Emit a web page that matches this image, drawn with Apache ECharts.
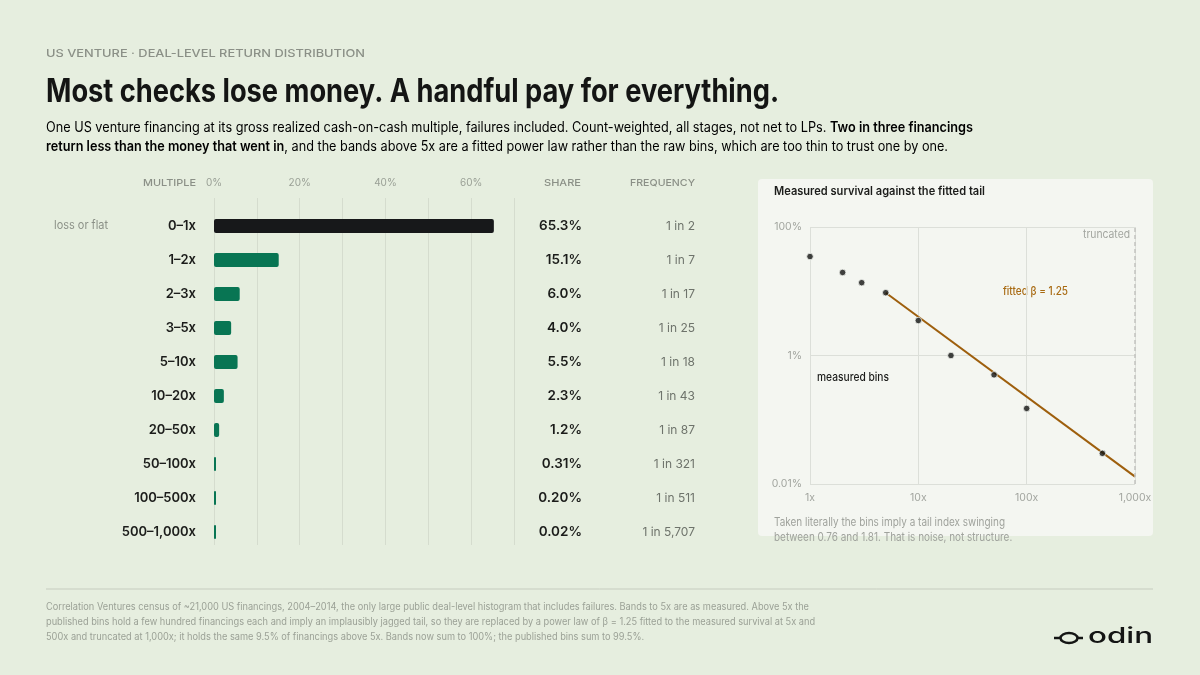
<!DOCTYPE html>
<html lang="en">
<head>
    <meta charset="UTF-8">
    <title>US venture deal-level return distribution</title>
    <style>
        html, body { margin: 0; padding: 0; background: #e6eedf; }
    </style>
</head>
<body>
    <div id="main" style="width: 1200px;height:675px;"></div>
</body>
<script src="https://cdn.jsdelivr.net/npm/echarts@6/dist/echarts.min.js"></script>
<script type="text/javascript">
    // bands of gross multiple, top to bottom
    const categories = ['0–1x', '1–2x', '2–3x', '3–5x', '5–10x', '10–20x', '20–50x', '50–100x', '100–500x', '500–1,000x'];
    const shares = [65.3, 15.1, 6.0, 4.0, 5.5, 2.3, 1.2, 0.31, 0.20, 0.02];
    const shareLabels = ['65.3%', '15.1%', '6.0%', '4.0%', '5.5%', '2.3%', '1.2%', '0.31%', '0.20%', '0.02%'];
    const freqLabels = ['1 in 2', '1 in 7', '1 in 17', '1 in 25', '1 in 18', '1 in 43', '1 in 87', '1 in 321', '1 in 511', '1 in 5,707'];
    const pctTicks = [0, 20, 40, 60];

    // survival curve, share of financings above each multiple (%)
    const survivalX = [1, 2, 3, 5, 10, 20, 50, 100, 500];
    const survivalY = [34.7, 19.6, 13.6, 9.5, 3.5, 1.0, 0.50, 0.15, 0.030];
    // fitted power law tail, end points
    const fitX = [5, 1000];
    const fitY = [9.5, 0.013];
    const truncateAt = 1000;

    const BG = '#e6eedf';
    const FONT = 'Inter';

    // text is a condensed face in the original, so squeeze Inter to the measured width
    const mctx = document.createElement('canvas').getContext('2d');
    function textWidth(text, weight, size) {
        mctx.font = weight + ' ' + size + 'px ' + FONT;
        return mctx.measureText(text).width;
    }
    function txt(x, y, text, size, weight, color, width, align) {
        const w = textWidth(text, weight, size);
        return {
            type: 'text', x: x, y: y, scaleX: width ? width / w : 1, silent: true,
            style: {
                text: text, fontSize: size, fontWeight: weight, fontFamily: FONT, fill: color,
                textAlign: align || 'left', align: align || 'left',
                textVerticalAlign: 'middle', verticalAlign: 'middle'
            }
        };
    }
    // subtitle line with a bold run
    function richLine(x, y, parts, size, width) {
        let w = 0, s = '';
        parts.forEach(function (p) {
            w += textWidth(p[1], p[0] === 'b' ? 600 : 400, size);
            s += '{' + p[0] + '|' + p[1] + '}';
        });
        return {
            type: 'text', x: x, y: y, scaleX: width / w, silent: true,
            style: {
                text: s, textVerticalAlign: 'middle', verticalAlign: 'middle',
                rich: {
                    n: { fontSize: size, fontWeight: 400, fontFamily: FONT, color: '#5d635b' },
                    b: { fontSize: size, fontWeight: 600, fontFamily: FONT, color: '#151615' }
                }
            }
        };
    }

    const sub1 = [['n', 'One US venture financing at its gross realized cash-on-cash multiple, failures included. Count-weighted, all stages, not net to LPs. '], ['b', 'Two in three financings']];
    const sub2 = [['b', 'return less than the money that went in'], ['n', ', and the bands above 5x are a fitted power law rather than the raw bins, which are too thin to trust one by one.']];
    const foot = [
        'Correlation Ventures census of ~21,000 US financings, 2004–2014, the only large public deal-level histogram that includes failures. Bands to 5x are as measured. Above 5x the',
        'published bins hold a few hundred financings each and imply an implausibly jagged tail, so they are replaced by a power law of β = 1.25 fitted to the measured survival at 5x and',
        '500x and truncated at 1,000x; it holds the same 9.5% of financings above 5x. Bands now sum to 100%; the published bins sum to 99.5%.'
    ];
    const footScale = 763 / textWidth(foot[0], 400, 10);
    const capScale = 231 / textWidth('Taken literally the bins imply a tail index swinging', 400, 11.5);

    const graphics = [
        // right panel card
        { type: 'rect', z: -10, silent: true, shape: { x: 758, y: 179, width: 395, height: 357, r: 4 }, style: { fill: '#f4f6f1' } },
        txt(46, 54, 'US VENTURE · DEAL-LEVEL RETURN DISTRIBUTION', 11, 500, '#8b9087', 319),
        txt(46, 92, 'Most checks lose money. A handful pay for everything.', 32, 700, '#141514', 733),
        richLine(46, 128, sub1, 14, 927),
        richLine(46, 147, sub2, 14, 902),
        // column heads
        txt(196, 183, 'MULTIPLE', 9.5, 500, '#8b9087', 53, 'right'),
        txt(581, 183, 'SHARE', 9.5, 500, '#8b9087', 37, 'right'),
        txt(695, 183, 'FREQUENCY', 9.5, 500, '#8b9087', 65, 'right'),
        txt(54, 226, 'loss or flat', 11.5, 400, '#8b9087', 54),
        // survival panel texts
        txt(774, 192, 'Measured survival against the fitted tail', 11.5, 600, '#1c1d1b', 211),
        txt(1130, 235, 'truncated', 11, 400, '#a3a6a0', 47, 'right'),
        txt(1003, 292, 'fitted β = 1.25', 11.5, 500, '#a86a12', 65),
        txt(817, 378, 'measured bins', 11.5, 500, '#1c1d1b', 72),
        { type: 'text', x: 774, y: 530, scaleX: capScale, silent: true,
          style: { text: 'Taken literally the bins imply a tail index swinging\nbetween 0.76 and 1.81. That is noise, not structure.',
                   fontSize: 11.5, fontFamily: FONT, fill: '#a0a39d', lineHeight: 15,
                   textVerticalAlign: 'middle', verticalAlign: 'middle' } },
        // footer
        { type: 'line', silent: true, shape: { x1: 46, y1: 589, x2: 1153, y2: 589 }, style: { stroke: '#c6ccbf', lineWidth: 1 } },
        { type: 'text', x: 46, y: 622, scaleX: footScale, silent: true,
          style: { text: foot.join('\n'), fontSize: 10, fontFamily: FONT, fill: '#9ba196', lineHeight: 15,
                   textVerticalAlign: 'middle', verticalAlign: 'middle' } },
        // logo
        { type: 'line', silent: true, shape: { x1: 1054, y1: 638, x2: 1083, y2: 638 }, style: { stroke: '#141514', lineWidth: 2.5 } },
        { type: 'ellipse', silent: true, shape: { cx: 1069, cy: 638, rx: 8.5, ry: 5 }, style: { fill: BG, stroke: '#141514', lineWidth: 2.5 } },
        txt(1088, 636, 'odin', 22, 500, '#141514', 65)
    ];

    var myChart = echarts.init(document.getElementById('main'));
    var option = {
        backgroundColor: BG,
        animation: false,
        textStyle: { fontFamily: FONT },
        graphic: { elements: graphics },
        grid: [
            { left: 214, top: 198, width: 300, height: 347 },
            { left: 214, top: 209, width: 300, height: 340 },
            { left: 810, top: 227, width: 325, height: 257 }
        ],
        xAxis: [
            {
                gridIndex: 0, type: 'value', min: 0, max: 70, interval: 10, position: 'top',
                axisLine: { show: false }, axisTick: { show: false },
                splitLine: { lineStyle: { color: '#d5dcce', width: 1 } },
                axisLabel: {
                    margin: 10, color: '#9aa096', fontSize: 10,
                    formatter: function (v) { return pctTicks.indexOf(v) >= 0 ? v + '%' : ''; }
                }
            },
            { gridIndex: 1, type: 'value', min: 0, max: 70, show: false },
            {
                gridIndex: 2, type: 'log', logBase: 10, min: 1, max: 1000,
                axisLine: { show: false }, axisTick: { show: false },
                splitLine: { lineStyle: { color: '#dcdfd9' } },
                axisLabel: {
                    margin: 8, color: '#a3a6a0', fontSize: 10.5,
                    formatter: function (v) { return (v >= 1000 ? '1,000' : v) + 'x'; }
                }
            }
        ],
        yAxis: [
            { gridIndex: 0, type: 'value', show: false },
            {
                gridIndex: 1, type: 'category', inverse: true, data: categories,
                axisLine: { show: false }, axisTick: { show: false },
                axisLabel: { margin: 18, color: '#1b1c1a', fontSize: 13, fontWeight: 600 }
            },
            {
                gridIndex: 1, type: 'category', inverse: true, data: shareLabels, position: 'right',
                axisLine: { show: false }, axisTick: { show: false },
                axisLabel: { margin: 68, align: 'right', color: '#1b1c1a', fontSize: 13.5, fontWeight: 600 }
            },
            {
                gridIndex: 1, type: 'category', inverse: true, data: freqLabels, position: 'right',
                axisLine: { show: false }, axisTick: { show: false },
                axisLabel: { margin: 181, align: 'right', color: '#6e736b', fontSize: 12 }
            },
            {
                gridIndex: 2, type: 'log', logBase: 100, min: 0.01, max: 100,
                axisLine: { show: false }, axisTick: { show: false },
                splitLine: { lineStyle: { color: '#dcdfd9' } },
                axisLabel: {
                    margin: 8, color: '#a3a6a0', fontSize: 10.5,
                    formatter: function (v) { return (+v.toPrecision(3)) + '%'; }
                }
            }
        ],
        series: [
            {
                name: 'share', type: 'bar', xAxisIndex: 1, yAxisIndex: 1,
                data: shares, barWidth: 14, barMinHeight: 2,
                itemStyle: {
                    borderRadius: 2,
                    color: function (p) { return p.dataIndex === 0 ? '#17181a' : '#087553'; }
                }
            },
            {
                name: 'fitted', type: 'line', xAxisIndex: 2, yAxisIndex: 4,
                data: fitX.map(function (x, i) { return [x, fitY[i]]; }),
                symbol: 'none', lineStyle: { color: '#9e5f0d', width: 2 },
                markLine: {
                    silent: true, symbol: 'none', label: { show: false },
                    lineStyle: { type: [4, 3], color: '#c2c4c0', width: 1.5 },
                    data: [{ xAxis: truncateAt }]
                }
            },
            {
                name: 'measured', type: 'scatter', xAxisIndex: 2, yAxisIndex: 4,
                data: survivalX.map(function (x, i) { return [x, survivalY[i]]; }),
                symbolSize: 6.5, itemStyle: { color: '#121312', borderColor: '#f4f6f1', borderWidth: 1 }, z: 5
            }
        ]
    };
    myChart.setOption(option);
</script>
</html>
